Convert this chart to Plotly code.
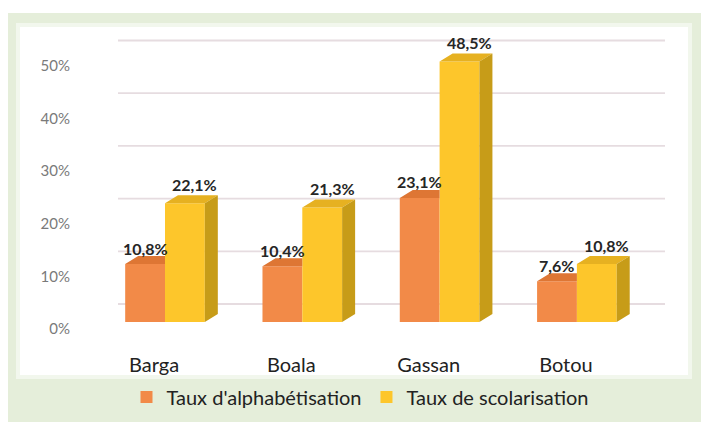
import plotly.graph_objects as go

# ---- data ----
categories = ["Barga", "Boala", "Gassan", "Botou"]
alpha_rate = [10.8, 10.4, 23.1, 7.6]      # Taux d'alphabétisation (%)
school_rate = [22.1, 21.3, 48.5, 10.8]    # Taux de scolarisation (%)
series_names = ["Taux d'alphabétisation", "Taux de scolarisation"]
tick_values = [0, 10, 20, 30, 40, 50]
tick_labels = ["0%", "10%", "20%", "30%", "40%", "50%"]

# ---- geometry of the canvas ----
W, H = 701, 422
ML, MR, MT, MB = 20, 11, 30, 82
PW, PH = W - ML - MR, H - MT - MB
BOTTOM = H - MB


def paper_x(px):
    return (px - ML) / PW


def paper_y(py):
    return (BOTTOM - py) / PH


# front-face scale (bars), back-wall scale (gridlines), label scale
X_STEP, X_ORIGIN = 137.3, 165.0
Y_STEP_FRONT, Y_BASE_FRONT = 5.37, 322.0
Y_STEP_BACK, Y_BASE_BACK = 5.27, 304.0
Y_STEP_LAB, Y_BASE_LAB = 5.26, 329.0

x_range = [(ML - X_ORIGIN) / X_STEP, (W - MR - X_ORIGIN) / X_STEP]


def y_range(base, step):
    return [-(BOTTOM - base) / step, (base - MT) / step]


BAR_W = 0.29
DX = 13 / X_STEP          # depth offset, x units
DY = 8 / Y_STEP_FRONT     # depth offset, y units

ORANGE = "#F28A48"
ORANGE_TOP = "#DE7634"
YELLOW = "#FDC62B"
YELLOW_TOP = "#E6B121"
YELLOW_SIDE = "#C79C18"

FONT = "Lato"


def fmt(v):
    return f"{v:.1f}".replace(".", ",") + "%"


fig = go.Figure()

xs = list(range(len(categories)))

# front faces
fig.add_trace(go.Bar(x=[i - BAR_W / 2 for i in xs], y=alpha_rate, width=BAR_W,
                     name=series_names[0], marker=dict(color=ORANGE, line=dict(width=0)),
                     hoverinfo="skip"))
fig.add_trace(go.Bar(x=[i + BAR_W / 2 for i in xs], y=school_rate, width=BAR_W,
                     name=series_names[1], marker=dict(color=YELLOW, line=dict(width=0)),
                     hoverinfo="skip"))


def poly_trace(pts_list, color):
    px, py = [], []
    for pts in pts_list:
        for (a, b) in pts:
            px.append(a)
            py.append(b)
        px.append(pts[0][0])
        py.append(pts[0][1])
        px.append(None)
        py.append(None)
    return go.Scatter(x=px, y=py, mode="lines", fill="toself", fillcolor=color,
                      line=dict(width=0, color=color), showlegend=False, hoverinfo="skip")


# orange top faces (clipped where the yellow bar stands in front)
orange_tops = []
for i, v in zip(xs, alpha_rate):
    x0, x1 = i - BAR_W, i
    orange_tops.append([(x0, v), (x1, v), (x1, v + DY), (x0 + DX, v + DY)])
fig.add_trace(poly_trace(orange_tops, ORANGE_TOP))

# yellow top and side faces
yellow_tops, yellow_sides = [], []
for i, v in zip(xs, school_rate):
    x0, x1 = i, i + BAR_W
    yellow_tops.append([(x0, v), (x1, v), (x1 + DX, v + DY), (x0 + DX, v + DY)])
    yellow_sides.append([(x1, 0), (x1 + DX, DY), (x1 + DX, v + DY), (x1, v)])
fig.add_trace(poly_trace(yellow_tops, YELLOW_TOP))
fig.add_trace(poly_trace(yellow_sides, YELLOW_SIDE))

# empty trace so the percentage label axis gets drawn
fig.add_trace(go.Scatter(x=[None], y=[None], yaxis="y3", mode="markers",
                         showlegend=False, hoverinfo="skip"))

# value labels
annotations = []
label_font = dict(family=FONT, size=16, color="#262626", weight="bold")
for i, v in zip(xs, alpha_rate):
    annotations.append(dict(x=i - BAR_W / 2, y=v, xref="x", yref="y", text=fmt(v),
                            showarrow=False, yshift=16, yanchor="middle", font=label_font))
for i, v in zip(xs, school_rate):
    annotations.append(dict(x=i + BAR_W / 2, y=v, xref="x", yref="y", text=fmt(v),
                            showarrow=False, yshift=19, xshift=10, yanchor="middle",
                            font=label_font))

# background frame and panel
shapes = [
    dict(type="rect", xref="paper", yref="paper", layer="below",
         x0=paper_x(8), x1=paper_x(W), y0=paper_y(13), y1=paper_y(H),
         fillcolor="#E5EEDA", line=dict(width=0)),
    dict(type="rect", xref="paper", yref="paper", layer="below",
         x0=paper_x(16), x1=paper_x(692), y0=paper_y(23), y1=paper_y(379),
         fillcolor="rgba(255,255,255,0.5)", line=dict(width=0)),
    dict(type="rect", xref="paper", yref="paper", layer="below",
         x0=paper_x(20), x1=paper_x(688), y0=paper_y(27), y1=paper_y(375),
         fillcolor="#FFFFFF", line=dict(width=0)),
]
# back-wall gridlines
for t in tick_values:
    shapes.append(dict(type="line", xref="paper", yref="y2", layer="below",
                       x0=paper_x(118), x1=paper_x(665), y0=t, y1=t,
                       line=dict(color="#E6DCE0", width=1.8)))

fig.update_layout(
    width=W, height=H,
    margin=dict(l=ML, r=MR, t=MT, b=MB, autoexpand=False),
    paper_bgcolor="#FFFFFF",
    plot_bgcolor="rgba(0,0,0,0)",
    barmode="overlay",
    showlegend=True,
    legend=dict(orientation="h", x=paper_x(360), xanchor="center",
                y=paper_y(397), yanchor="middle", bgcolor="rgba(0,0,0,0)",
                font=dict(family=FONT, size=20, color="#222222"),
                itemclick=False, itemdoubleclick=False),
    xaxis=dict(range=x_range, tickvals=[i - 0.08 for i in xs], ticktext=categories,
               showgrid=False, zeroline=False, showline=False, ticks="",
               ticklabelstandoff=11,
               tickfont=dict(family=FONT, size=20, color="#222222"), fixedrange=True),
    yaxis=dict(range=y_range(Y_BASE_FRONT, Y_STEP_FRONT), visible=False,
               showgrid=False, zeroline=False, fixedrange=True),
    yaxis2=dict(range=y_range(Y_BASE_BACK, Y_STEP_BACK), overlaying="y", visible=False,
                showgrid=False, zeroline=False, fixedrange=True),
    yaxis3=dict(range=y_range(Y_BASE_LAB, Y_STEP_LAB), overlaying="y", anchor="free",
                position=paper_x(70), side="left", tickvals=tick_values,
                ticktext=tick_labels, showgrid=False, zeroline=False, showline=False,
                ticks="", tickfont=dict(family=FONT, size=15, color="#7A7A7A"),
                fixedrange=True),
    annotations=annotations,
    shapes=shapes,
)

fig.write_html("out.html")
